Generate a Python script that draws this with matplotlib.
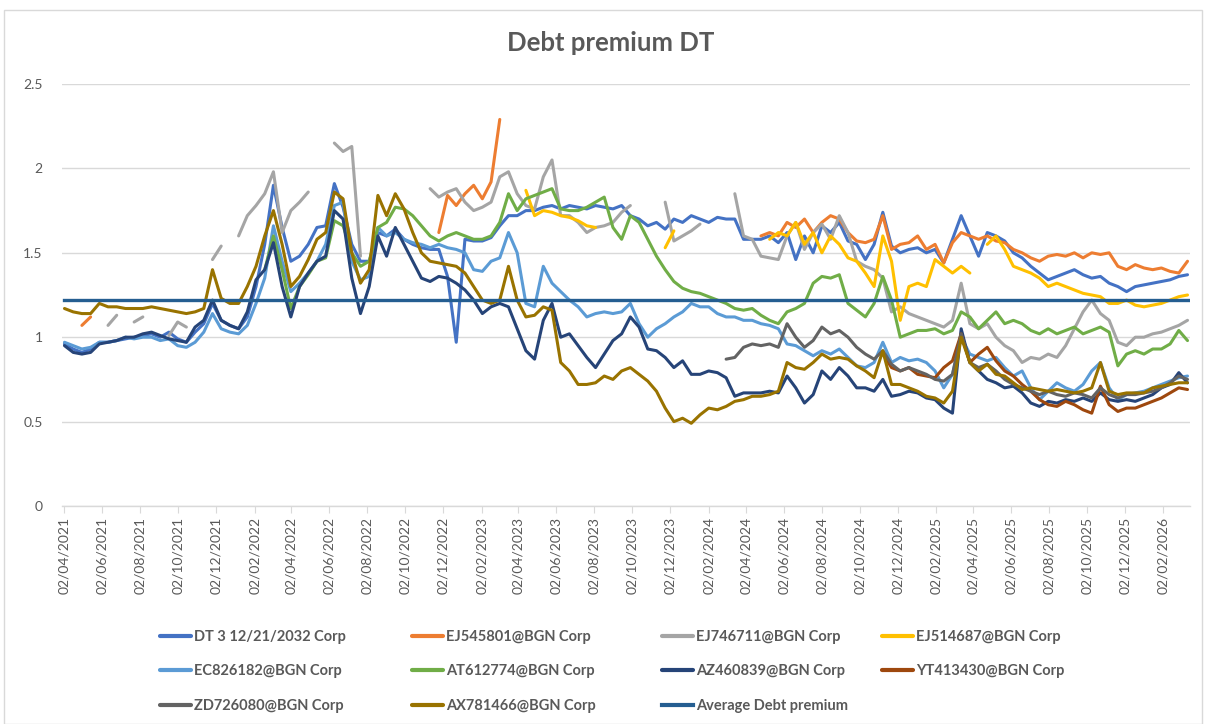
import numpy as np
import pandas as pd
import matplotlib
matplotlib.use("Agg")
import matplotlib.pyplot as plt
import matplotlib.dates as mdates
from matplotlib.ticker import FixedLocator, FuncFormatter
from matplotlib.patches import Rectangle

nan = np.nan

# ---- data (sampled every 14 days from 02/04/2021) ----
dates = pd.date_range("2021-04-02", periods=130, freq="14D")

dt_corp = [0.96,0.93,0.91,0.93,0.97,0.97,0.98,0.99,1.0,1.01,
           1.02,1.0,1.03,0.99,0.97,1.03,1.08,1.2,1.1,1.07,
           1.05,1.12,1.3,1.55,1.9,1.65,1.45,1.48,1.55,1.65,
           1.66,1.91,1.77,1.55,1.45,1.45,1.62,1.6,1.64,1.58,
           1.55,1.53,1.52,1.52,1.36,0.97,1.58,1.57,1.57,1.59,
           1.66,1.72,1.72,1.75,1.75,1.77,1.78,1.76,1.78,1.77,
           1.76,1.78,1.77,1.76,1.78,1.72,1.7,1.66,1.68,1.64,
           1.7,1.68,1.72,1.7,1.68,1.71,1.7,1.7,1.58,1.58,
           1.58,1.6,1.56,1.62,1.46,1.6,1.5,1.66,1.62,1.68,
           1.57,1.55,1.46,1.55,1.74,1.54,1.5,1.52,1.53,1.5,
           1.52,1.44,1.58,1.72,1.6,1.48,1.62,1.6,1.57,1.5,
           1.47,1.42,1.38,1.34,1.36,1.38,1.4,1.37,1.35,1.36,
           1.32,1.3,1.27,1.3,1.31,1.32,1.33,1.34,1.36,1.37]

ej545801 = [nan,nan,1.07,1.12] + [nan]*39 + \
           [1.62,1.84,1.78,1.85,1.9,1.82,1.92,2.29] + [nan]*29 + \
           [1.6,1.62,1.6,1.68,1.65,1.7,1.62,1.68,1.72,1.7,
            1.62,1.57,1.56,1.58,1.72,1.52,1.55,1.56,1.6,1.52,
            1.55,1.44,1.56,1.62,1.6,1.58,1.6,1.57,1.56,1.52,
            1.5,1.47,1.45,1.48,1.49,1.48,1.5,1.47,1.5,1.49,
            1.5,1.42,1.4,1.43,1.41,1.4,1.41,1.39,1.38,1.45]

ej746711 = [nan,nan,nan,nan,nan,1.07,1.13,nan,1.09,1.12,
            nan,nan,1.01,1.09,1.06,nan,nan,1.46,1.54,nan,
            1.6,1.72,1.78,1.85,1.98,1.62,1.75,1.8,1.86,nan,
            nan,2.15,2.1,2.13,1.48,nan,nan,nan,nan,nan,
            nan,nan,1.88,1.83,1.86,1.88,1.8,1.75,1.77,1.8,
            1.95,1.98,1.85,1.78,1.76,1.95,2.05,1.72,1.72,1.68,
            1.62,1.65,1.66,1.68,1.74,1.78,nan,nan,nan,1.8,
            1.57,1.6,1.63,1.67,nan,nan,nan,1.85,1.6,1.58,
            1.48,1.47,1.46,1.6,1.68,1.52,1.62,1.67,1.58,1.72,
            1.62,1.45,1.42,1.4,1.35,1.15,1.18,1.14,1.12,1.1,
            1.08,1.06,1.1,1.32,1.08,1.05,1.08,1.0,0.95,0.92,
            0.85,0.88,0.87,0.9,0.88,0.95,1.05,1.15,1.22,1.14,
            1.1,0.97,0.95,1.0,1.0,1.02,1.03,1.05,1.07,1.1]

ej514687 = [nan]*53 + \
           [1.87,1.72,1.75,1.74,1.72,1.71,1.69,1.66,1.65] + [nan]*7 + \
           [1.53,1.63] + [nan]*10 + \
           [1.58,1.62,1.6,1.68,1.55,1.62,1.5,1.6,1.55,
            1.47,1.45,1.38,1.3,1.6,1.45,1.1,1.3,1.32,1.3,
            1.46,1.42,1.38,1.42,1.38,nan,1.55,1.6,1.52,1.42,
            1.4,1.38,1.35,1.3,1.32,1.3,1.28,1.26,1.25,1.24,
            1.2,1.2,1.22,1.19,1.18,1.19,1.2,1.22,1.24,1.25]

ec826182 = [0.97,0.95,0.93,0.94,0.97,0.97,0.98,1.0,0.99,1.0,
            1.0,0.98,0.99,0.95,0.94,0.97,1.03,1.14,1.05,1.03,
            1.02,1.07,1.2,1.35,1.66,1.45,1.27,1.32,1.38,1.45,
            1.55,1.78,1.8,1.45,1.34,1.36,1.65,1.6,1.62,1.58,
            1.56,1.55,1.53,1.55,1.53,1.52,1.5,1.4,1.39,1.45,
            1.47,1.62,1.5,1.2,1.18,1.42,1.32,1.27,1.22,1.18,
            1.12,1.14,1.15,1.14,1.15,1.2,1.08,1.0,1.05,1.08,
            1.12,1.15,1.2,1.18,1.18,1.14,1.12,1.12,1.1,1.1,
            1.08,1.07,1.05,0.96,0.95,0.92,0.89,0.92,0.9,0.93,
            0.88,0.83,0.82,0.85,0.97,0.85,0.88,0.86,0.87,0.85,
            0.8,0.7,0.78,1.0,0.9,0.88,0.86,0.88,0.82,0.77,
            0.8,0.7,0.63,0.68,0.73,0.7,0.68,0.72,0.8,0.85,
            0.7,0.63,0.66,0.67,0.68,0.7,0.72,0.74,0.76,0.77]

at612774 = [nan]*23 + \
           [1.4,1.6,1.4,1.17,1.3,1.37,1.45,
            1.47,1.69,1.66,1.5,1.42,1.45,1.65,1.68,1.77,1.76,
            1.72,1.66,1.6,1.57,1.6,1.62,1.6,1.58,1.58,1.6,
            1.68,1.85,1.75,1.82,1.84,1.86,1.88,1.76,1.75,1.75,
            1.77,1.8,1.83,1.65,1.58,1.72,1.68,1.58,1.48,1.4,
            1.33,1.29,1.27,1.26,1.24,1.22,1.2,1.17,1.16,1.17,
            1.13,1.1,1.08,1.15,1.17,1.2,1.32,1.36,1.35,1.37,
            1.2,1.16,1.12,1.2,1.36,1.22,1.0,1.02,1.04,1.04,
            1.05,1.02,1.04,1.15,1.12,1.05,1.1,1.15,1.08,1.1,
            1.08,1.04,1.02,1.05,1.02,1.04,1.06,1.02,1.04,1.06,
            1.03,0.83,0.9,0.92,0.9,0.93,0.93,0.96,1.04,0.98]

az460839 = [0.95,0.91,0.9,0.91,0.96,0.97,0.98,1.0,1.0,1.02,
            1.03,1.01,0.99,0.98,0.97,1.06,1.1,1.22,1.1,1.07,
            1.05,1.15,1.34,1.4,1.56,1.3,1.12,1.3,1.38,1.45,
            1.48,1.75,1.7,1.35,1.14,1.3,1.6,1.48,1.65,1.55,
            1.45,1.35,1.33,1.36,1.35,1.32,1.28,1.22,1.14,1.18,
            1.2,1.18,1.05,0.92,0.87,1.1,1.2,1.0,1.02,0.95,
            0.88,0.82,0.9,0.98,1.02,1.12,1.06,0.93,0.92,0.88,
            0.82,0.86,0.78,0.78,0.8,0.79,0.76,0.65,0.67,0.67,
            0.67,0.68,0.67,0.77,0.7,0.61,0.66,0.8,0.75,0.82,
            0.77,0.7,0.7,0.68,0.75,0.65,0.66,0.68,0.67,0.64,
            0.63,0.58,0.55,1.05,0.85,0.8,0.75,0.73,0.7,0.71,
            0.67,0.61,0.59,0.62,0.61,0.63,0.62,0.64,0.62,0.67,
            0.63,0.62,0.63,0.62,0.64,0.66,0.7,0.72,0.79,0.73]

yt413430 = [nan]*94 + \
           [0.9,0.82,0.8,0.82,0.78,0.77,
            0.76,0.82,0.86,1.02,0.85,0.9,0.94,0.86,0.8,0.77,
            0.72,0.68,0.63,0.6,0.59,0.62,0.6,0.57,0.55,0.71,
            0.6,0.56,0.58,0.58,0.6,0.62,0.64,0.67,0.7,0.69]

zd726080 = [nan]*76 + \
           [0.87,0.88,0.94,0.96,
            0.95,0.96,0.94,1.08,1.0,0.94,0.98,1.06,1.02,1.04,
            1.0,0.94,0.9,0.87,0.92,0.84,0.8,0.82,0.8,0.78,
            0.75,0.74,0.78,1.02,0.85,0.82,0.84,0.8,0.75,0.72,
            0.7,0.68,0.66,0.68,0.66,0.65,0.67,0.66,0.64,0.7,
            0.66,0.64,0.66,0.66,0.67,0.68,0.7,0.73,0.77,0.75]

ax781466 = [1.17,1.15,1.14,1.14,1.2,1.18,1.18,1.17,1.17,1.17,
            1.18,1.17,1.16,1.15,1.14,1.15,1.17,1.4,1.23,1.2,
            1.2,1.3,1.42,1.6,1.75,1.55,1.3,1.36,1.46,1.58,
            1.62,1.86,1.82,1.5,1.32,1.4,1.84,1.72,1.85,1.76,
            1.62,1.5,1.45,1.44,1.43,1.42,1.38,1.3,1.22,1.2,
            1.22,1.42,1.22,1.12,1.13,1.18,1.16,0.85,0.8,0.72,
            0.72,0.73,0.77,0.75,0.8,0.82,0.78,0.74,0.68,0.58,
            0.5,0.52,0.49,0.54,0.58,0.57,0.59,0.62,0.63,0.65,
            0.65,0.66,0.68,0.85,0.82,0.81,0.85,0.9,0.87,0.88,
            0.87,0.83,0.8,0.76,0.92,0.72,0.72,0.7,0.68,0.65,
            0.64,0.61,0.68,1.0,0.85,0.8,0.84,0.78,0.77,0.73,
            0.69,0.7,0.69,0.68,0.69,0.68,0.67,0.68,0.7,0.85,
            0.68,0.66,0.67,0.67,0.67,0.7,0.71,0.72,0.73,0.73]

average_premium = 1.22

series_names = ["DT 3 12/21/2032 Corp", "EJ545801@BGN Corp", "EJ746711@BGN Corp",
                "EJ514687@BGN Corp", "EC826182@BGN Corp", "AT612774@BGN Corp",
                "AZ460839@BGN Corp", "YT413430@BGN Corp", "ZD726080@BGN Corp",
                "AX781466@BGN Corp"]
series_values = [dt_corp, ej545801, ej746711, ej514687, ec826182, at612774,
                 az460839, yt413430, zd726080, ax781466]
series_colors = ["#4472C4", "#ED7D31", "#A5A5A5", "#FFC000", "#5B9BD5", "#70AD47",
                 "#264478", "#9E480E", "#636363", "#997300"]
avg_name = "Average Debt premium"
avg_color = "#255E91"

yticks = [0, 0.5, 1, 1.5, 2, 2.5]

# ---- figure ----
plt.rcParams['font.family'] = ['Lato', 'DejaVu Sans']
W, H = 1206, 724
fig = plt.figure(figsize=(W / 100, H / 100), dpi=100)
fig.patch.set_facecolor("white")
fig.add_artist(Rectangle((4 / W, 0.0), 1198 / W, 1 - 10 / H, transform=fig.transFigure,
                         fill=False, edgecolor="#D9D9D9", linewidth=1.0))

ax_left, ax_right, ax_top, ax_bot = 62, 1190, 84, 506
ax = fig.add_axes([ax_left / W, 1 - ax_bot / H, (ax_right - ax_left) / W, (ax_bot - ax_top) / H])

handles = []
for name, vals, col in zip(series_names, series_values, series_colors):
    v = np.array(vals, dtype=float)
    assert len(v) == len(dates), (name, len(v))
    h, = ax.plot(dates, v, color=col, lw=2.2, label=name, solid_capstyle="round",
                 solid_joinstyle="round")
    handles.append(h)
h_avg, = ax.plot(dates, np.full(len(dates), average_premium), color=avg_color, lw=2.4,
                 label=avg_name)
handles.append(h_avg)

ax.set_xlim(dates[0] - pd.Timedelta(days=4), dates[-1] + pd.Timedelta(days=4))
ax.set_ylim(0, 2.5)
ax.yaxis.set_major_locator(FixedLocator(yticks))
ax.yaxis.set_major_formatter(FuncFormatter(lambda v, p: f"{v:g}"))
ax.grid(axis="y", color="#D9D9D9", lw=1.0)
ax.set_axisbelow(True)
for s in ["top", "right", "left"]:
    ax.spines[s].set_visible(False)
ax.spines["bottom"].set_color("#D9D9D9")
ax.spines["bottom"].set_linewidth(1.0)

ax.xaxis.set_major_locator(mdates.MonthLocator(bymonth=[2, 4, 6, 8, 10, 12], bymonthday=2))
ax.xaxis.set_major_formatter(mdates.DateFormatter("%d/%m/%Y"))
ax.tick_params(axis="x", which="major", length=5, color="#D9D9D9", labelsize=10,
               labelcolor="#595959", rotation=90, pad=3)
ax.tick_params(axis="y", length=0, labelsize=10, labelcolor="#595959", pad=14)

fig.text(0.506, 1 - 43 / H, "Debt premium DT", ha="center", va="center",
         fontsize=18.5, fontweight="bold", color="#595959")

# legend: 4 columns, filled row-wise
col_x = [160, 412, 662, 882]
for c in range(4):
    hs = handles[c::4]
    leg = fig.legend(handles=hs, labels=[h.get_label() for h in hs],
                     loc="upper left", bbox_to_anchor=(col_x[c] / W, 1 - 630 / H),
                     frameon=False, fontsize=10.5, handlelength=2.1, handletextpad=0.25,
                     labelspacing=1.4, borderpad=0, borderaxespad=0)
    for t in leg.get_texts():
        t.set_color("#595959")
        t.set_fontweight("bold")
    for l in leg.get_lines():
        l.set_linewidth(3)

fig.savefig("out.png", dpi=100, facecolor="white")
